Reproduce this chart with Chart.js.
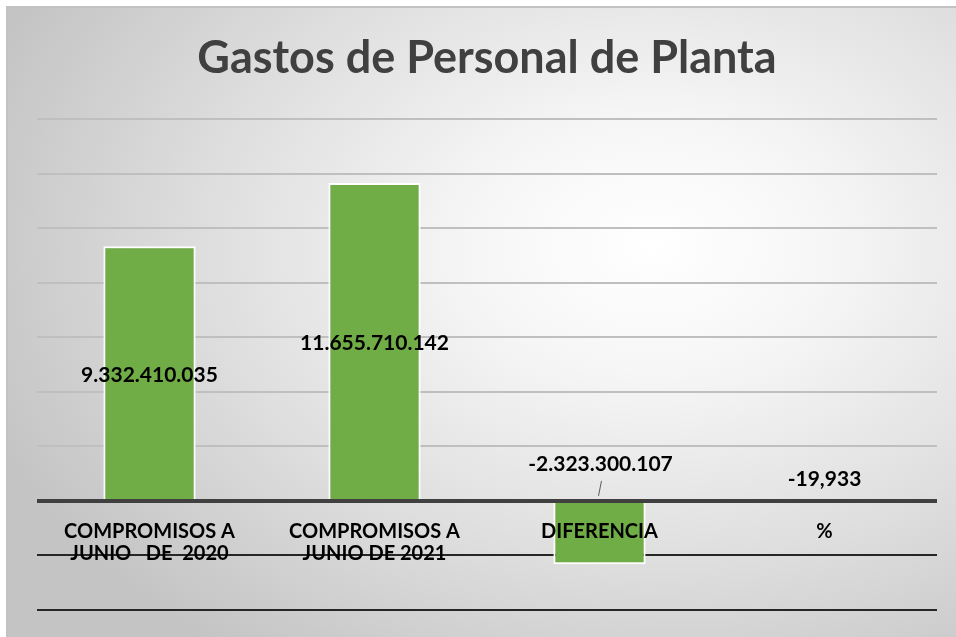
<!DOCTYPE html>
<html>
<head>
<meta charset="utf-8">
<script src="https://cdn.jsdelivr.net/npm/chart.js@4/dist/chart.umd.min.js"></script>
<style>
  html, body { margin: 0; padding: 0; background: #fff; }
  #wrap {
    position: absolute; left: 6px; top: 6px; width: 950px; height: 631px;
    box-shadow: inset 2px 2px 0 #c2c2c2;
    background: radial-gradient(ellipse 75% 80% at 68% 38%, #ffffff 0%, #f6f6f6 25%, #e0e0e0 60%, #c4c4c4 100%);
  }
  #grafico { display: block; }
</style>
</head>
<body>
<div id="wrap"><canvas id="grafico" width="950" height="631"></canvas></div>
<script>
const titulo = 'Gastos de Personal de Planta'
const categorias = [
    ['COMPROMISOS A', 'JUNIO   DE  2020'],
    ['COMPROMISOS A', 'JUNIO DE 2021'],
    'DIFERENCIA',
    '%'
]
const valores = [9332410035, 11655710142, -2323300107, -19.933]
const ejeMin = -4000000000
const ejeMax = 14000000000
const ejePaso = 2000000000

function formato(v){
    if (Math.abs(v) < 1000) {
        return v.toFixed(3).replace('.', ',')
    }
    const s = Math.abs(Math.round(v)).toString().replace(/\B(?=(\d{3})+(?!\d))/g, '.')
    return (v < 0 ? '-' : '') + s
}

// eje cero, nombres de categoria y valores encima de las barras
const etiquetas = {
    id: 'etiquetas',
    afterDatasetsDraw(chart){
        const ctx = chart.ctx
        const area = chart.chartArea
        const xs = chart.scales.x
        const cero = chart.scales.y.getPixelForValue(0)
        const meta = chart.getDatasetMeta(0)
        ctx.save()

        ctx.strokeStyle = '#404040'
        ctx.lineWidth = 4
        ctx.beginPath()
        ctx.moveTo(area.left, cero)
        ctx.lineTo(area.right, cero)
        ctx.stroke()

        ctx.font = 'bold 20px Lato'
        ctx.fillStyle = '#000'
        ctx.textAlign = 'center'
        ctx.textBaseline = 'middle'
        categorias.forEach((c, i) => {
            const lineas = Array.isArray(c) ? c : [c]
            const x = xs.getPixelForValue(i)
            lineas.forEach((l, j) => ctx.fillText(l, x, cero + 31 + j * 22))
        })

        ctx.font = 'bold 21px Lato'
        meta.data.forEach((bar, i) => {
            const v = valores[i]
            const alto = Math.abs(bar.base - bar.y)
            if (v > 0) {
                ctx.fillText(formato(v), bar.x, (bar.y + bar.base) / 2 + 2)
            } else if (alto > 4) {
                // etiqueta movida encima del eje con linea guia
                ctx.fillText(formato(v), bar.x + 1, bar.base - 38)
                ctx.strokeStyle = '#595959'
                ctx.lineWidth = 1
                ctx.beginPath()
                ctx.moveTo(bar.x + 2, bar.base - 21)
                ctx.lineTo(bar.x - 1, bar.base - 6)
                ctx.stroke()
            } else {
                ctx.fillText(formato(v), bar.x, bar.base - 23)
            }
        })
        ctx.restore()
    }
}

new Chart(document.getElementById('grafico'), {
    type: 'bar',
    data: {
        labels: categorias,
        datasets: [{
            data: valores,
            backgroundColor: '#70AD47',
            borderColor: '#ffffff',
            borderWidth: c => Math.abs(c.raw) < 1e6 ? 0 : 2,
            borderSkipped: 'start',
            barPercentage: 0.41,
            categoryPercentage: 1
        }]
    },
    options: {
        responsive: false,
        animation: false,
        devicePixelRatio: 1,
        layout: { padding: { left: 31, right: 19, bottom: 27, top: 0 } },
        plugins: {
            legend: { display: false },
            tooltip: { enabled: false },
            title: {
                display: true,
                text: titulo,
                color: '#404040',
                font: { family: 'Lato', size: 45, weight: 'bold', lineHeight: 1.2 },
                padding: { top: 25, bottom: 34 }
            }
        },
        scales: {
            x: {
                position: { y: 0 },
                grid: { display: false },
                border: { display: false },
                ticks: { display: false }
            },
            y: {
                min: ejeMin,
                max: ejeMax,
                border: { display: false },
                ticks: { display: false, stepSize: ejePaso },
                grid: {
                    drawTicks: false,
                    color: c => c.tick.value < 0 ? '#262626' : (c.tick.value === 0 ? '#404040' : '#bfbfbf'),
                    lineWidth: 2
                }
            }
        }
    },
    plugins: [etiquetas]
})
</script>
</body>
</html>
